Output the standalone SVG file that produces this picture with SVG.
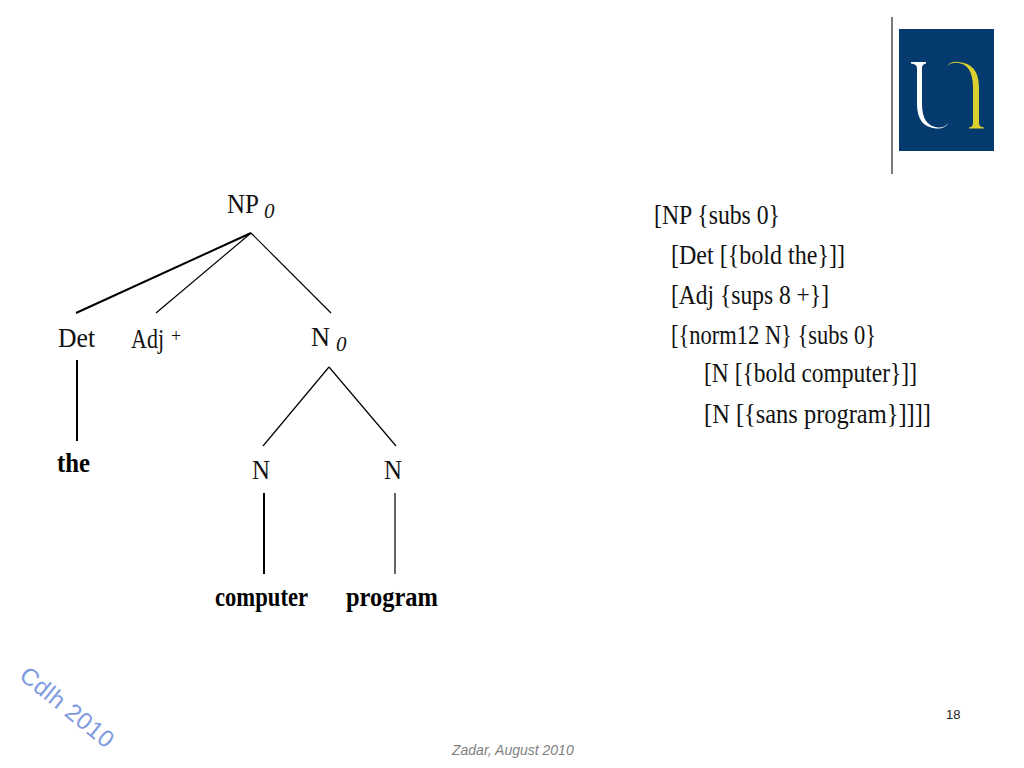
<svg xmlns="http://www.w3.org/2000/svg" width="1024" height="768" viewBox="0 0 1024 768">
<style>
.t{font-family:"Liberation Serif",serif;font-size:27px;fill:#111}
.b{font-family:"Liberation Serif",serif;font-size:27px;font-weight:bold;fill:#000}
.s{font-family:"Liberation Serif",serif;font-size:21px;font-style:italic;fill:#111}
.c{font-family:"Liberation Serif",serif;font-size:27px;fill:#111}
.l{stroke:#000;stroke-width:1.2;fill:none}
.h{stroke:#000;stroke-width:2;fill:none}
</style>
<rect width="1024" height="768" fill="#fff"/>
<g id="logo">
<line x1="892" y1="17" x2="892" y2="174" stroke="#222" stroke-width="1.2"/>
<rect x="899" y="29" width="95" height="122" fill="#053a6e"/>
<path d="M911 62H926V63.500Q922 64 922 68V104Q922 126 938 127.500Q945 128 949 122Q945 129.500 936 128.500Q917 127 917 104V68Q917 64 911 63.500Z" fill="#fff"/>
<path d="M947 66Q951 61 958 62Q979 63 979 88V123Q979 127 984 127.500V128.500H969V127.500Q973 127 973 123V88Q973 64 957 62.800Q951 62.500 947 66Z" fill="#dcd02e"/>
</g>
<g id="connectors">
<line class="h" x1="251" y1="233" x2="76" y2="313"/>
<line class="l" x1="251" y1="233" x2="156" y2="313"/>
<line class="l" x1="251" y1="233" x2="331" y2="313"/>
<line class="h" x1="77" y1="360" x2="77" y2="441"/>
<line class="l" x1="329" y1="367" x2="263" y2="446"/>
<line class="l" x1="329" y1="367" x2="396" y2="446"/>
<line class="h" x1="264" y1="493" x2="264" y2="574"/>
<line class="l" x1="395" y1="493" x2="395" y2="574"/>
</g>
<g id="node-np"><text class="t" x="227" y="213" textLength="32" lengthAdjust="spacingAndGlyphs">NP</text><text class="s" x="264" y="218">0</text></g>
<g id="node-det"><text class="t" x="58" y="347" textLength="37" lengthAdjust="spacingAndGlyphs">Det</text></g>
<g id="node-adj"><text class="t" x="131" y="348" textLength="33" lengthAdjust="spacingAndGlyphs">Adj</text><text class="t" x="171" y="342" style="font-size:18px">+</text></g>
<g id="node-n0"><text class="t" x="311" y="346" textLength="19" lengthAdjust="spacingAndGlyphs">N</text><text class="s" x="336" y="351">0</text></g>
<g id="node-the"><text class="b" x="57" y="472" textLength="33" lengthAdjust="spacingAndGlyphs">the</text></g>
<g id="node-n1"><text class="t" x="252" y="479" textLength="18" lengthAdjust="spacingAndGlyphs">N</text></g>
<g id="node-n2"><text class="t" x="384" y="479" textLength="18" lengthAdjust="spacingAndGlyphs">N</text></g>
<g id="node-computer"><text class="b" x="215" y="606" textLength="93" lengthAdjust="spacingAndGlyphs">computer</text></g>
<g id="node-program"><text class="b" x="346" y="606" textLength="92" lengthAdjust="spacingAndGlyphs">program</text></g>
<g id="code">
<text class="c" x="654" y="224" textLength="126" lengthAdjust="spacingAndGlyphs">[NP {subs 0}</text>
<text class="c" x="671" y="264" textLength="174" lengthAdjust="spacingAndGlyphs">[Det [{bold the}]]</text>
<text class="c" x="671" y="304" textLength="158" lengthAdjust="spacingAndGlyphs">[Adj {sups 8 +}]</text>
<text class="c" x="671" y="344" textLength="205" lengthAdjust="spacingAndGlyphs">[{norm12 N} {subs 0}</text>
<text class="c" x="704" y="382" textLength="213" lengthAdjust="spacingAndGlyphs">[N [{bold computer}]]</text>
<text class="c" x="704" y="423" textLength="227" lengthAdjust="spacingAndGlyphs">[N [{sans program}]]]]</text>
</g>
<g id="footer">
<text transform="translate(18 678) rotate(39)" font-family="Liberation Sans,sans-serif" font-size="24" fill="#7f9bdf" textLength="113">Cdlh 2010</text>
<text x="946" y="719" font-family="Liberation Sans,sans-serif" font-size="13" fill="#222">18</text>
<text x="452" y="755" font-family="Liberation Sans,sans-serif" font-size="14" font-style="italic" fill="#808080">Zadar, August 2010</text>
</g>
</svg>
